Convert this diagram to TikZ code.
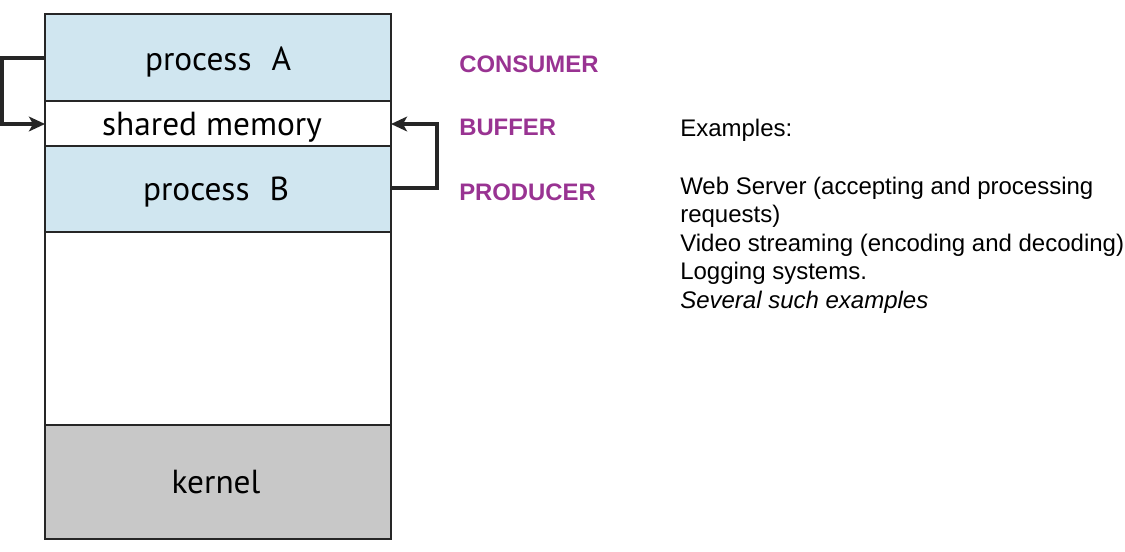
\documentclass[tikz,border=0pt]{standalone}
\usepackage{fontspec}
\setmainfont{Liberation Sans}
\newfontfamily\boxfont{PT Sans}
\usetikzlibrary{arrows.meta}
\definecolor{procblue}{RGB}{208,230,240}
\definecolor{kerngray}{RGB}{200,200,200}
\definecolor{labpurple}{RGB}{153,51,146}
\tikzset{
  region/.style={draw=black!85, line width=1.1pt},
  boxtext/.style={font=\boxfont\fontsize{25}{30}\selectfont, anchor=base, inner sep=0pt},
  lab/.style={font=\bfseries\fontsize{17.9}{21}\selectfont, text=labpurple, anchor=base west, inner sep=0pt},
  ex/.style={font=\fontsize{18}{21}\selectfont, anchor=base west, inner sep=0pt},
  flow/.style={draw=black!85, line width=2.3pt, -{Stealth[length=12pt,width=11pt,inset=3pt]}}
}
\begin{document}
\begin{tikzpicture}[x=0.75pt,y=-0.75pt]
\useasboundingbox (0,0) rectangle (1125,551);
% regions
\path[region, fill=procblue] (45,14) rectangle (391,101);
\path[region, fill=white] (45,101) rectangle (391,146);
\path[region, fill=procblue] (45,146) rectangle (391,232);
\path[region, fill=white] (45,232) rectangle (391,425);
\path[region, fill=kerngray] (45,425) rectangle (391,539);
% anchors for connectors
\coordinate (aout) at (45,58);
\coordinate (smleft) at (45,124);
\coordinate (bout) at (391,188);
\coordinate (smright) at (391,124);
% texts
\node[boxtext] (pa) at (218,70) {process\hspace{0.6em}A};
\node[boxtext] (sm) at (212,135) {shared memory};
\node[boxtext] (pb) at (216,200) {process\hspace{0.6em}B};
\node[boxtext] (kern) at (216,493) {kernel};
% connectors
\draw[flow] (aout) -- (2,58) -- (2,124) -- (smleft);
\draw[flow] (bout) -- (437,188) -- (437,124) -- (smright);
% labels
\node[lab] (cons) at (459,72) {CONSUMER};
\node[lab] (buf) at (459,135) {BUFFER};
\node[lab] (prod) at (459,200) {PRODUCER};
% examples
\node[ex] (exh) at (680,136) {Examples:};
\node[ex] (ex1) at (680,194) {Web Server (accepting and processing};
\node[ex] (ex2) at (680,222) {requests)};
\node[ex] (ex3) at (680,251) {Video streaming (encoding and decoding)};
\node[ex] (ex4) at (680,279) {Logging systems.};
\node[ex] (ex5) at (680,308) {\itshape Several such examples};
\end{tikzpicture}
\end{document}
